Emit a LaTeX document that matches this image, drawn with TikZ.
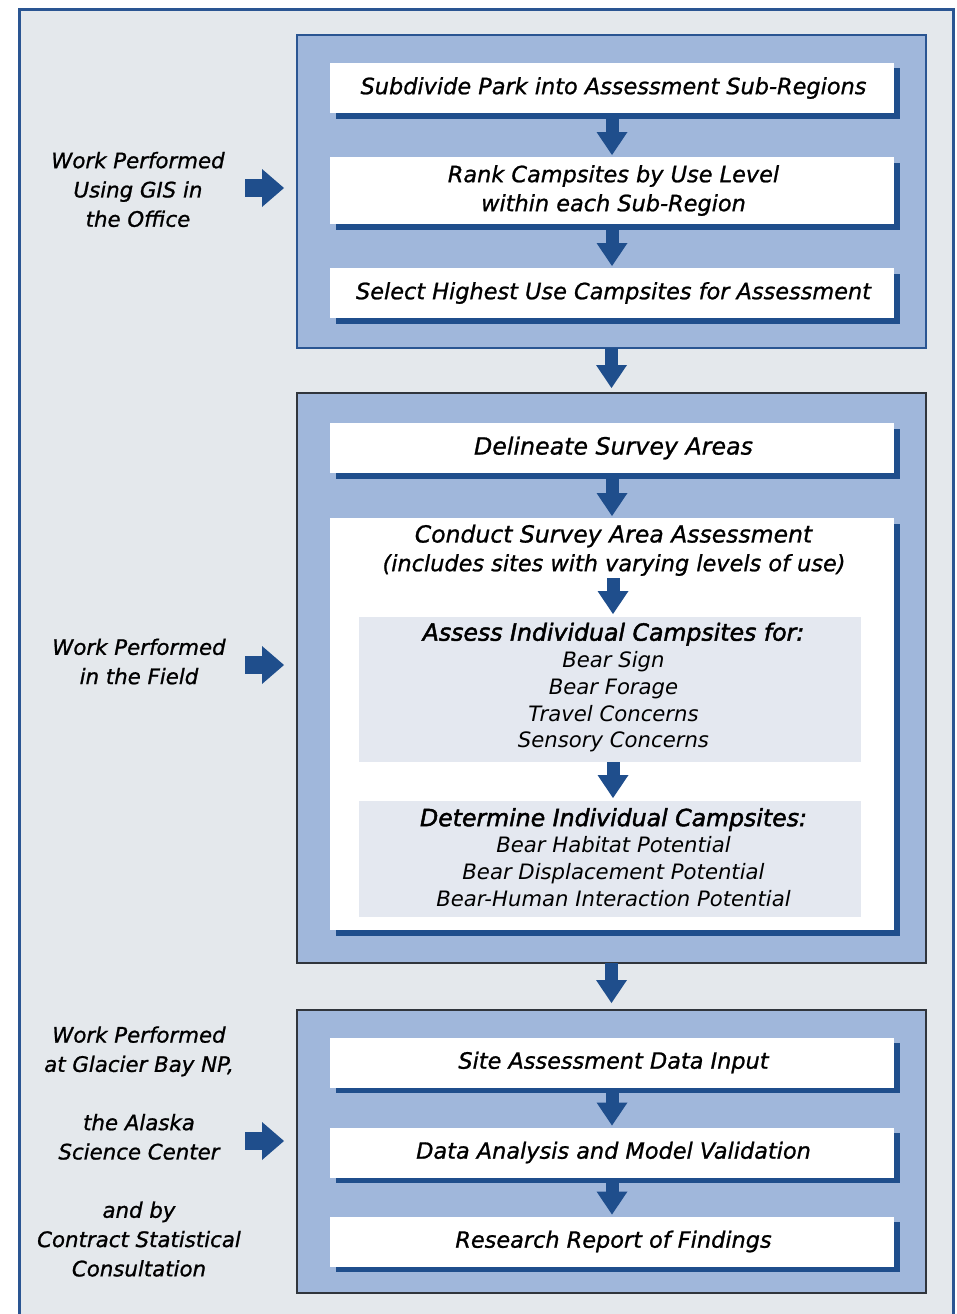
\documentclass[tikz,border=0pt]{standalone}
\usepackage{fontspec}
\setmainfont{DejaVu Sans}
\newfontfamily\medfam{DejaVu Sans}[FakeBold=1.0]
\newfontfamily\boldfam{DejaVu Sans}[FakeBold=2.0]
\usetikzlibrary{arrows.meta,shadows,calc}
\definecolor{bgc}{HTML}{E4E8EC}
\definecolor{framec}{HTML}{2A5592}
\definecolor{panelc}{HTML}{A0B7DB}
\definecolor{dblue}{HTML}{1F4E8C}
\definecolor{grayc}{HTML}{E4E8F0}
\definecolor{edgec}{HTML}{30353C}
\newcommand{\maintext}{\medfam\itshape\fontsize{22.4}{29}\selectfont}
\newcommand{\lbltext}{\medfam\itshape\fontsize{21.3}{29.3}\selectfont}
\newcommand{\headtext}{\boldfam\itshape\fontsize{23.6}{29}\selectfont}
\newcommand{\subtext}{\itshape\fontsize{21.2}{26.8}\selectfont}
\begin{document}
\begin{tikzpicture}[x=1pt,y=-1pt,
  panel/.style={fill=panelc, minimum width=629pt, inner sep=0pt, outer sep=0pt},
  wbox/.style={fill=white, minimum width=564pt, inner sep=0pt, outer sep=0pt, align=center, font=\maintext,
     general shadow={fill=dblue, shadow xshift=5.5pt, shadow yshift=-5.5pt}},
  gbox/.style={fill=grayc, minimum width=502pt, inner sep=0pt, outer sep=0pt},
  gtext/.style={align=center, font=\subtext, inner sep=0pt},
  lbl/.style={align=center, font=\lbltext, inner sep=0pt},
  downarr/.style={draw=dblue, line width=13pt, -{Triangle[width=31pt,length=23pt,line width=0pt]}},
  rightarr/.style={draw=dblue, line width=18pt, -{Triangle[width=38pt,length=22pt,line width=0pt]}}]
\useasboundingbox (0,0) rectangle (957,1314);
% outer frame
\draw[draw=framec, line width=2.5pt, fill=bgc] (19.5,9.5) rectangle (953.5,1340);
% panels
\node[panel, draw=framec, line width=2pt, minimum height=313pt] (p1) at (611.5,191.5) {};
\node[panel, draw=edgec, line width=1.2pt, minimum height=570pt] (p2) at (611.5,678) {};
\node[panel, draw=edgec, line width=1.2pt, minimum height=283pt] (p3) at (611.5,1151.5) {};
% panel 1 boxes
\node[wbox, minimum height=50pt] (b1) at (612,88) {\hspace*{3pt}Subdivide Park into Assessment Sub-Regions};
\node[wbox, minimum height=67pt] (b2) at (612,190.5) {\hspace*{3pt}Rank Campsites by Use Level\\\hspace*{3pt}within each Sub-Region};
\node[wbox, minimum height=50pt] (b3) at (612,293) {\hspace*{3pt}Select Highest Use Campsites for Assessment};
% panel 2 boxes
\node[wbox, minimum height=50pt] (b4) at (612,448) {\hspace*{3pt}\fontsize{23.7}{29}\selectfont Delineate Survey Areas};
\node[wbox, minimum height=412pt] (b5) at (612,724) {};
\node[font=\maintext, inner sep=0pt] (t1) at (613.5,536) {\fontsize{23.5}{29}\selectfont Conduct Survey Area Assessment};
\node[font=\maintext, inner sep=0pt] (t2) at (614,565) {(includes sites with varying levels of use)};
\node[gbox, minimum height=145pt] (g1) at (610,689.5) {};
\node[gtext] (gt1) at (613.5,687.5) {{\headtext Assess Individual Campsites for:}\\Bear Sign\\Bear Forage\\Travel Concerns\\Sensory Concerns};
\node[gbox, minimum height=116pt] (g2) at (610,859) {};
\node[gtext] (gt2) at (613.5,857.5) {{\headtext Determine Individual Campsites:}\\Bear Habitat Potential\\Bear Displacement Potential\\Bear-Human Interaction Potential};
% panel 3 boxes
\node[wbox, minimum height=50pt] (b6) at (612,1062.5) {\hspace*{3pt}Site Assessment Data Input};
\node[wbox, minimum height=50pt] (b7) at (612,1152.5) {\hspace*{3pt}Data Analysis and Model Validation};
\node[wbox, minimum height=50pt] (b8) at (612,1241.5) {\hspace*{3pt}Research Report of Findings};
% left labels
\node[lbl] (l1) at (138,189.5) {Work Performed\\Using GIS in\\the Office};
\node[lbl] (l2) at (139,661.5) {Work Performed\\in the Field};
\node[lbl] (l3) at (139,1151.5) {Work Performed\\at Glacier Bay NP,\\[29pt]the Alaska\\Science Center\\[29pt]and by\\Contract Statistical\\Consultation};
% down arrows
\draw[downarr] ([yshift=-5.5pt]b1.south) -- ([yshift=2pt]b2.north);
\draw[downarr] ([yshift=-5.5pt]b2.south) -- ([yshift=2pt]b3.north);
\draw[downarr] (p1.south) -- ([yshift=5pt]p2.north);
\draw[downarr] ([yshift=-5.5pt]b4.south) -- ([yshift=2pt]b5.north);
\coordinate (a5) at (613,578);
\draw[downarr] (a5) -- ([yshift=3pt]g1.north -| a5);
\draw[downarr] (g1.south -| a5) -- ([yshift=3pt]g2.north -| a5);
\draw[downarr] (p2.south) -- ([yshift=7pt]p3.north);
\draw[downarr] ([yshift=-5.5pt]b6.south) -- ([yshift=2pt]b7.north);
\draw[downarr] ([yshift=-5.5pt]b7.south) -- ([yshift=2pt]b8.north);
% right arrows
\coordinate (r1) at (245,188);
\coordinate (r2) at (245,665);
\coordinate (r3) at (245,1141);
\draw[rightarr] (r1) -- ($(r1 -| p1.west)+(-13,0)$);
\draw[rightarr] (r2) -- ($(r2 -| p2.west)+(-13,0)$);
\draw[rightarr] (r3) -- ($(r3 -| p3.west)+(-13,0)$);
\end{tikzpicture}
\end{document}
